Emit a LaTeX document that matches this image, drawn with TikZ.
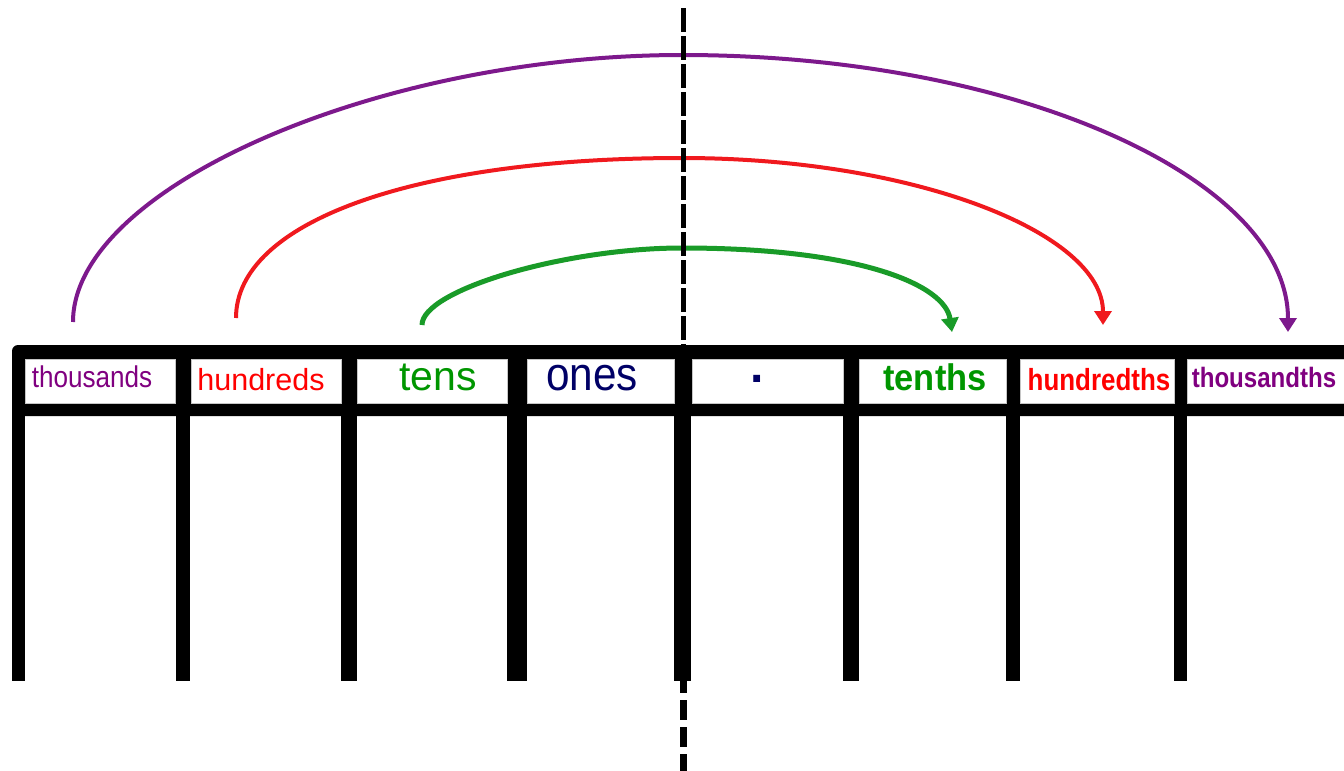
\documentclass[tikz,border=0pt]{standalone}
\usepackage{fontspec}
\usepackage{graphicx}
\setmainfont{Liberation Sans}
\usetikzlibrary{arrows.meta}
\definecolor{cpurple}{RGB}{125,25,140}
\definecolor{cred}{RGB}{240,25,30}
\definecolor{cgreen}{RGB}{25,155,40}
\definecolor{tpurple}{RGB}{128,0,128}
\definecolor{tred}{RGB}{255,0,0}
\definecolor{tgreen}{RGB}{0,150,0}
\definecolor{tnavy}{RGB}{0,0,102}
\begin{document}
\begin{tikzpicture}[x=1pt,y=-1pt,
  cell/.style={fill=white, draw=gray!45, line width=0.6pt, inner sep=0pt, minimum height=44pt},
  post/.style={fill=black},
  lbl/.style={anchor=base, inner sep=0pt},
  jump/.style={line width=4pt, -{Triangle[width=17pt,length=14pt]}},
  dashtop/.style={line width=5pt, dash pattern=on 24pt off 4pt},
  dashbot/.style={line width=7pt, dash pattern=on 20pt off 7pt, dash phase=8pt}
]
\useasboundingbox (0,0) rectangle (1344,771);
% frame bars
\fill[rounded corners=6pt] (12,345) rectangle (1352,416);
% posts
\fill[post] (12,410) rectangle (25,681);
\fill[post] (176,410) rectangle (190,681);
\fill[post] (341,410) rectangle (357,681);
\fill[post] (507,410) rectangle (527,681);
\fill[post] (674,410) rectangle (691,681);
\fill[post] (843,410) rectangle (859,681);
\fill[post] (1006,410) rectangle (1020,681);
\fill[post] (1174,410) rectangle (1187,681);
% header cells
\node[cell, minimum width=150pt] (c1) at (100,381) {};
\node[cell, minimum width=150pt] (c2) at (266,381) {};
\node[cell, minimum width=150pt] (c3) at (432,381) {};
\node[cell, minimum width=147pt] (c4) at (600.5,381) {};
\node[cell, minimum width=151pt] (c5) at (767.5,381) {};
\node[cell, minimum width=147pt] (c6) at (932.5,381) {};
\node[cell, minimum width=154pt] (c7) at (1097,381) {};
\node[cell, minimum width=160pt] (c8) at (1267,381) {};
% labels
\node[lbl, text=tpurple] (t1) at (92,387) {\fontsize{30}{30}\selectfont\scalebox{0.87}[1]{thousands}};
\node[lbl, text=tred] (t2) at (261,390) {\fontsize{30.5}{30}\selectfont hundreds};
\node[lbl, text=tgreen] (t3) at (438,390) {\fontsize{41}{41}\selectfont tens};
\node[lbl, text=tnavy] (t4) at (592,390) {\fontsize{47}{47}\selectfont\scalebox{0.9}[1]{ones}};
\node[lbl, text=tnavy] (t5) at (757,382) {\fontsize{48}{48}\selectfont\bfseries .};
\node[lbl, text=tgreen] (t6) at (935,390) {\fontsize{37}{37}\selectfont\bfseries\scalebox{0.93}[1]{tenths}};
\node[lbl, text=tred] (t7) at (1099,390) {\fontsize{30.5}{30}\selectfont\bfseries\scalebox{0.85}[1]{hundredths}};
\node[lbl, text=tpurple] (t8) at (1264,387) {\fontsize{28}{28}\selectfont\bfseries\scalebox{0.86}[1]{thousandths}};
% arc end points
\coordinate (ps) at (73,322);
\coordinate (ptop) at (682,55);
\coordinate (pe) at (1288,332);
\coordinate (rs) at (236,318);
\coordinate (rtop) at (682,158);
\coordinate (re) at (1103,325);
\coordinate (gs) at (422,325);
\coordinate (gtop) at (682,248);
\coordinate (ge) at (952,332);
\draw[jump, cpurple] (ps) .. controls (73,188) and (378,55) .. (ptop) .. controls (1017,55) and (1288,179) .. (pe);
\draw[jump, cred] (rs) .. controls (236,222) and (414,158) .. (rtop) .. controls (914,158) and (1103,233) .. (re);
\draw[jump, cgreen, line width=5pt] (gs) .. controls (422,290) and (565,248) .. (gtop) .. controls (860,248) and (945,285) .. (ge);
% dashed divider
\coordinate (dt1) at (683,8);
\coordinate (dt2) at (683,345);
\coordinate (db1) at (683,681);
\coordinate (db2) at (683,771);
\draw[dashtop] (dt1) -- (dt2);
\draw[dashbot] (db1) -- (db2);
\end{tikzpicture}
\end{document}
